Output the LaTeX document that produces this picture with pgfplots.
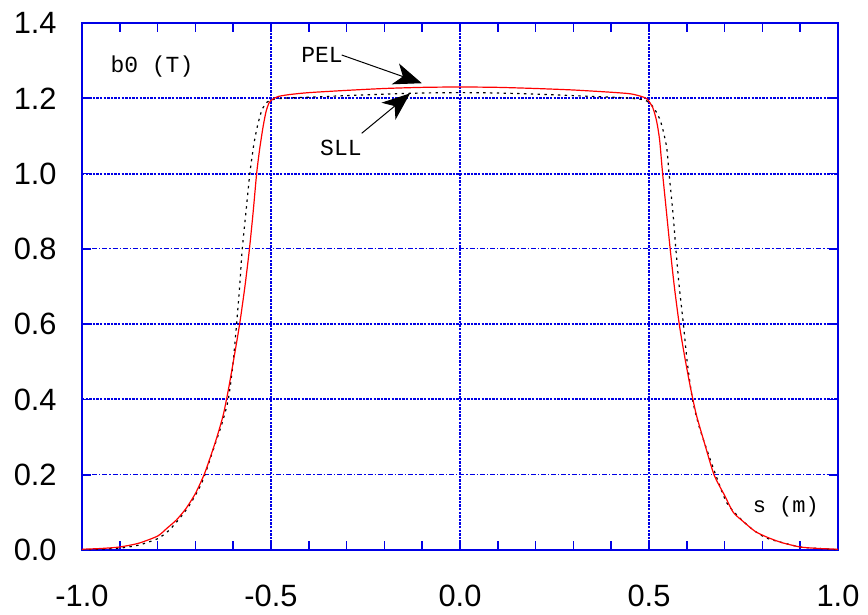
\documentclass[border=0pt]{standalone}
\usepackage{fontspec}
\setmainfont{Liberation Sans}
\newfontfamily\cour{Liberation Mono}
\usepackage{pgfplots}
\pgfplotsset{compat=1.18}
\usetikzlibrary{arrows.meta}
\newcommand\ticksize{\fontsize{15.4}{18}\selectfont}
\newcommand\annsize{\cour\fontsize{11.5}{13}\selectfont}
\definecolor{gblue}{RGB}{0,0,230}
\begin{document}
\begin{tikzpicture}
\begin{axis}[
  scale only axis, width=378pt, height=263.5pt,
  xmin=-1, xmax=1, ymin=0, ymax=1.4,
  xtick={-1,-0.5,0,0.5,1},
  xticklabels={-1.0,-0.5,0.0,0.5,1.0},
  ytick={0,0.4,0.6,1.0,1.2,1.4},
  yticklabels={0.0,0.4,0.6,1.0,1.2,1.4},
  extra y ticks={0.2,0.8},
  extra y tick labels={0.2,0.8},
  minor x tick num=4, minor y tick num=3,
  tick align=inside, tick pos=both,
  major tick length=4.5pt, minor tick length=4.5pt,
  tick style={gblue, line width=0.8pt},
  axis line style={gblue, line width=1pt},
  grid=major,
  major grid style={gblue, line width=1pt, dash pattern=on 1.2pt off 0.6pt},
  extra y tick style={major grid style={gblue, line width=0.45pt, dash pattern=on 2.5pt off 1pt on 0.6pt off 1pt}},
  xticklabel style={font=\ticksize, inner sep=0pt, anchor=north, yshift=-17.5pt},
  yticklabel style={font=\ticksize, inner sep=0pt, anchor=east, xshift=-12.5pt},
  clip=false,
]
\coordinate (bl) at (rel axis cs:0,0);
\coordinate (tr) at (rel axis cs:1,1);
% SLL
\addplot[black, line width=0.6pt, dash pattern=on 1.2pt off 2.2pt, smooth, tension=0.4] coordinates {
(-1.00,0.001) (-0.95,0.002) (-0.90,0.005) (-0.85,0.013) (-0.80,0.030) (-0.77,0.052)
(-0.741,0.085) (-0.715,0.120) (-0.688,0.168) (-0.675,0.200) (-0.65,0.275) (-0.63,0.335)
(-0.613,0.400) (-0.601,0.490) (-0.591,0.600) (-0.583,0.700) (-0.576,0.800) (-0.566,0.900)
(-0.556,1.000) (-0.545,1.080) (-0.535,1.130) (-0.524,1.169) (-0.51,1.190) (-0.49,1.198)
(-0.45,1.201) (-0.40,1.203) (-0.30,1.207) (-0.20,1.211) (-0.10,1.214) (0.00,1.215)
(0.10,1.214) (0.20,1.211) (0.30,1.207) (0.40,1.203) (0.45,1.200) (0.49,1.195)
(0.511,1.177) (0.527,1.148) (0.536,1.120) (0.547,1.068) (0.553,1.000) (0.563,0.900)
(0.571,0.800) (0.58,0.700) (0.591,0.600) (0.601,0.500) (0.615,0.400) (0.632,0.330)
(0.65,0.275) (0.68,0.190) (0.706,0.125) (0.74,0.085) (0.776,0.053) (0.81,0.032)
(0.855,0.019) (0.90,0.008) (0.95,0.004) (1.00,0.001)
};
% PEL
\addplot[red, line width=0.6pt, smooth, tension=0.4] coordinates {
(-1.00,0.002) (-0.95,0.004) (-0.90,0.008) (-0.85,0.018) (-0.80,0.037) (-0.775,0.058)
(-0.75,0.080) (-0.725,0.110) (-0.70,0.150) (-0.677,0.200) (-0.66,0.248) (-0.643,0.300)
(-0.626,0.360) (-0.612,0.430) (-0.598,0.510) (-0.583,0.600) (-0.569,0.700) (-0.557,0.800)
(-0.547,0.900) (-0.538,1.000) (-0.530,1.065) (-0.521,1.124) (-0.513,1.165) (-0.505,1.188)
(-0.495,1.198) (-0.48,1.205) (-0.45,1.210) (-0.40,1.215) (-0.30,1.221) (-0.20,1.226)
(-0.10,1.229) (0.00,1.230) (0.10,1.229) (0.20,1.226) (0.30,1.222) (0.40,1.216)
(0.45,1.212) (0.476,1.206) (0.495,1.198) (0.51,1.175) (0.52,1.140) (0.528,1.090)
(0.536,1.000) (0.546,0.900) (0.556,0.800) (0.567,0.700) (0.580,0.600) (0.595,0.510)
(0.610,0.430) (0.625,0.360) (0.645,0.290) (0.672,0.200) (0.70,0.145) (0.723,0.100)
(0.75,0.075) (0.78,0.050) (0.81,0.035) (0.85,0.020) (0.90,0.008) (0.95,0.004) (1.00,0.002)
};
\node[font=\annsize] at (axis cs:-0.815,1.283) {b0 (T)};
\node[font=\annsize] at (axis cs:-0.365,1.315) {PEL};
\node[font=\annsize] at (axis cs:-0.315,1.067) {SLL};
\node[font=\annsize, font=\cour\fontsize{11}{13}\selectfont] at (axis cs:0.862,0.114) {s (m)};
\draw[black, line width=0.5pt, -{Stealth[length=14pt,width=11pt,inset=4pt]}] (axis cs:-0.313,1.315) -- (axis cs:-0.101,1.240);
\draw[black, line width=0.5pt, -{Stealth[length=14pt,width=11pt,inset=4pt]}] (axis cs:-0.260,1.107) -- (axis cs:-0.132,1.213);
\end{axis}
\pgfresetboundingbox
\path ([shift={(-41pt,-32.5pt)}]bl) rectangle ([shift={(15pt,11.5pt)}]tr);
\end{tikzpicture}
\end{document}
